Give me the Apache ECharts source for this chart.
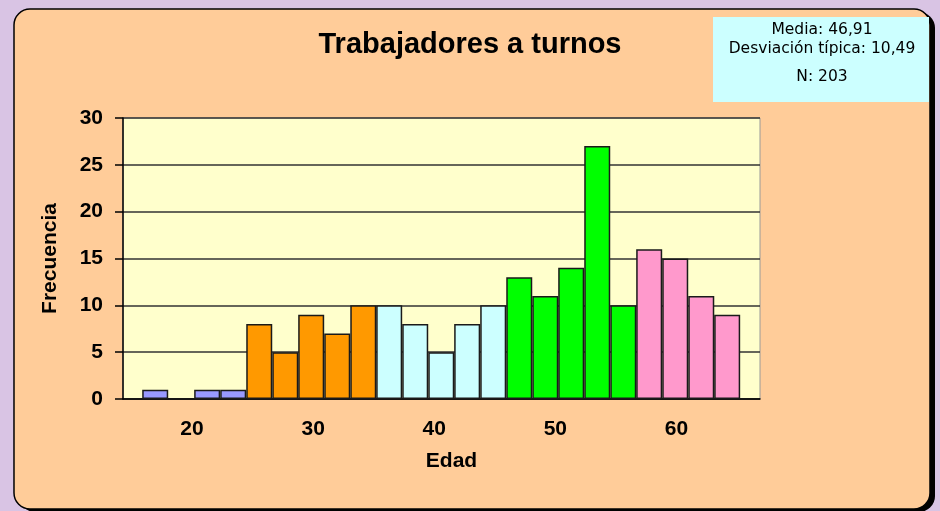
<!DOCTYPE html>
<html>
<head>
<meta charset="utf-8">
<script src="https://cdn.jsdelivr.net/npm/echarts@6/dist/echarts.min.js"></script>
<style>
    html, body { margin: 0; padding: 0; background: #D9C4E4; }
    #chart { width: 940px; height: 511px; }
</style>
</head>
<body>
<div id="chart"></div>
<script>
// centros de cada barra (edad) y frecuencias
const ageCenters = [16.96, 21.25, 23.40, 25.55, 27.70, 29.84, 31.99, 34.14, 36.28, 38.43, 40.58,
    42.72, 44.87, 47.02, 49.17, 51.31, 53.46, 55.61, 57.75, 59.90, 62.05, 64.19];
const frequencies = [1, 1, 1, 8, 5, 9, 7, 10, 10, 8, 5, 8, 10, 13, 11, 14, 27, 10, 16, 15, 11, 9];
const groupOf = [0, 0, 0, 1, 1, 1, 1, 1, 2, 2, 2, 2, 2, 3, 3, 3, 3, 3, 4, 4, 4, 4];
const groupColors = ['#9999FF', '#FF9900', '#CCFFFF', '#00FF00', '#FF99CC'];
const xTicks = [20, 30, 40, 50, 60];
const statsLines = ['Media: 46,91', 'Desviación típica: 10,49', 'N: 203'];

let chart = echarts.init(document.getElementById('chart'));

let barData = [];
for (let i = 0; i < frequencies.length; i++) {
    barData.push({
        value: [ageCenters[i], frequencies[i]],
        itemStyle: { color: groupColors[groupOf[i]] }
    });
}

const axisFont = { color: '#000', fontSize: 21, fontWeight: 'bold', fontFamily: 'Liberation Sans, Arial' };
const statsFont = '15.5px "DejaVu Sans"';

let option = {
    backgroundColor: '#D9C4E4',
    animation: false,
    title: {
        text: 'Trabajadores a turnos',
        left: 'center',
        top: 25,
        textStyle: { color: '#000', fontSize: 29, fontWeight: 'bold', fontFamily: 'Liberation Sans, Arial' }
    },
    graphic: [
        {
            // sombra del panel
            type: 'rect',
            z: -11,
            shape: { x: 19, y: 12, width: 916, height: 500, r: 16 },
            style: { fill: '#000' }
        },
        {
            // panel de fondo
            type: 'rect',
            z: -10,
            shape: { x: 14, y: 9, width: 916, height: 500, r: 16 },
            style: { fill: '#FFCC99', stroke: '#000', lineWidth: 1.5 }
        },
        {
            type: 'rect',
            z: 50,
            shape: { x: 713, y: 17, width: 216, height: 85 },
            style: { fill: '#CCFFFF' }
        },
        {
            type: 'text',
            z: 51,
            style: { x: 822, y: 30, text: statsLines[0], textAlign: 'center', textVerticalAlign: 'middle',
                fill: '#000', font: statsFont }
        },
        {
            type: 'text',
            z: 51,
            style: { x: 822, y: 49, text: statsLines[1], textAlign: 'center', textVerticalAlign: 'middle',
                fill: '#000', font: statsFont }
        },
        {
            type: 'text',
            z: 51,
            style: { x: 822, y: 77, text: statsLines[2], textAlign: 'center', textVerticalAlign: 'middle',
                fill: '#000', font: statsFont }
        }
    ],
    grid: {
        left: 123,
        right: 180,
        top: 118,
        bottom: 112,
        show: true,
        backgroundColor: '#FFFFCC',
        borderColor: '#999',
        borderWidth: 1
    },
    xAxis: {
        type: 'value',
        min: 14.3,
        max: 66.9,
        name: 'Edad',
        nameLocation: 'middle',
        nameGap: 52,
        nameTextStyle: Object.assign({ padding: [0, 0, 0, 20] }, axisFont),
        axisLine: { lineStyle: { color: '#000', width: 1.5 } },
        axisTick: { show: false },
        splitLine: { show: false },
        axisLabel: Object.assign({ customValues: xTicks, margin: 20 }, axisFont)
    },
    yAxis: {
        type: 'value',
        min: 0,
        max: 30,
        interval: 5,
        name: 'Frecuencia',
        nameLocation: 'middle',
        nameGap: 62,
        nameTextStyle: axisFont,
        axisLine: { show: true, lineStyle: { color: '#000', width: 1.5 } },
        axisTick: { show: true, length: 8, lineStyle: { color: '#000', width: 1.5 } },
        splitLine: { show: true, lineStyle: { color: '#333', width: 1.5 } },
        axisLabel: Object.assign({ margin: 20 }, axisFont)
    },
    series: [{
        type: 'bar',
        barWidth: 26,
        itemStyle: { borderColor: '#1a1a1a', borderWidth: 1.5 },
        data: barData
    }]
};
chart.setOption(option);
</script>
</body>
</html>
